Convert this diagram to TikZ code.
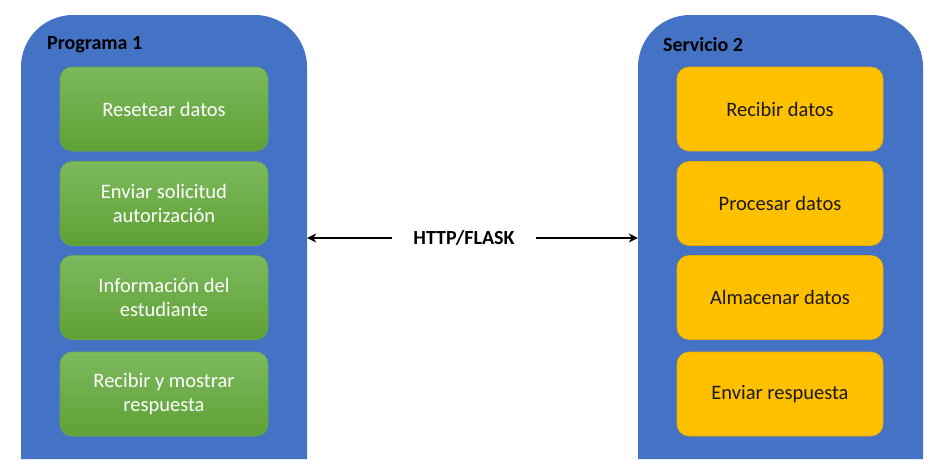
\documentclass[tikz,border=0pt]{standalone}
\usepackage{fontspec}
\setmainfont{Carlito}
\usetikzlibrary{arrows.meta}
\definecolor{panelblue}{HTML}{4472C4}
\definecolor{gtop}{HTML}{7DB95E}
\definecolor{gbot}{HTML}{5EA134}
\definecolor{gborder}{HTML}{6AA84A}
\definecolor{orangefill}{HTML}{FFC000}
\definecolor{oborder}{HTML}{E6AC00}
\definecolor{txtdark}{HTML}{1A1A1A}
\tikzset{
  panel/.style={fill=panelblue, draw=none},
  greenbox/.style={rectangle, rounded corners=12pt, minimum width=208pt, minimum height=84pt,
    top color=gtop, bottom color=gbot, draw=gborder, line width=0.6pt,
    text=white, font=\fontsize{20.5}{24.5}\selectfont, align=center, inner sep=0pt},
  orangebox/.style={rectangle, rounded corners=12pt, minimum width=206pt, minimum height=84pt,
    fill=orangefill, draw=oborder, line width=0.6pt,
    text=txtdark, font=\fontsize{20.5}{24.5}\selectfont, align=center, inner sep=0pt},
  paneltitle/.style={anchor=west, font=\bfseries\fontsize{20}{24}\selectfont, text=black, inner sep=0pt},
  link/.style={line width=2.6pt, -{Stealth[length=9pt,width=9pt]}},
}
\begin{document}
\begin{tikzpicture}[x=1pt,y=-1pt]
\useasboundingbox (0,0) rectangle (945,475);
% panels
\fill[panel] (21,459) [rounded corners=52pt] -- (21,15) -- (307,15) [sharp corners] -- (307,459) -- cycle;
\fill[panel] (638,459) [rounded corners=52pt] -- (638,15) -- (923,15) [sharp corners] -- (923,459) -- cycle;
\node[minimum width=286pt, minimum height=444pt, inner sep=0pt] (p1) at (164,237) {};
\node[minimum width=285pt, minimum height=444pt, inner sep=0pt] (s2) at (780.5,237) {};
\node[paneltitle] (t1) at (47,44.5) {Programa 1};
\node[paneltitle] (t2) at (663,44.5) {Servicio 2};
% green boxes
\node[greenbox] (g1) at (164,109) {Resetear datos};
\node[greenbox] (g2) at (164,203.5) {Enviar solicitud\\autorización};
\node[greenbox] (g3) at (164,297.5) {Información del\\estudiante};
\node[greenbox] (g4) at (164,394) {Recibir y mostrar\\respuesta};
% orange boxes
\node[orangebox] (o1) at (780,109) {Recibir datos};
\node[orangebox] (o2) at (780,203.5) {Procesar datos};
\node[orangebox] (o3) at (780,297.5) {Almacenar datos};
\node[orangebox] (o4) at (780,394) {Enviar respuesta};
% link
\node[font=\bfseries\fontsize{20}{24}\selectfont, minimum width=144pt, inner sep=0pt] (http) at (464,238) {HTTP/FLASK};
\draw[link] (http.west) -- (p1.east |- http.west);
\draw[link] (http.east) -- (s2.west |- http.east);
\end{tikzpicture}
\end{document}
